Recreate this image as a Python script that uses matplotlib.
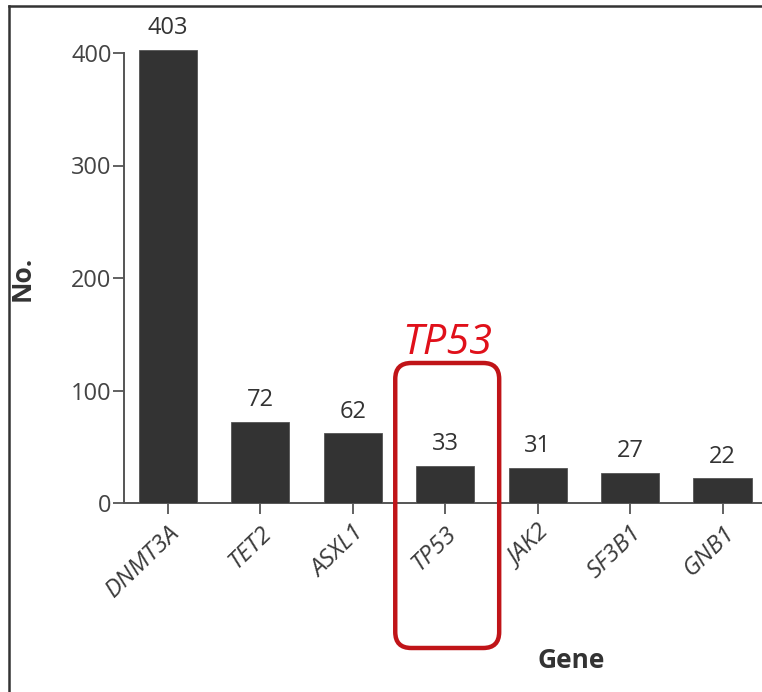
import matplotlib
matplotlib.use('Agg')
import matplotlib.pyplot as plt
from matplotlib.patches import FancyBboxPatch
from matplotlib.lines import Line2D
import numpy as np

genes = ['DNMT3A', 'TET2', 'ASXL1', 'TP53', 'JAK2', 'SF3B1', 'GNB1']
counts = [403, 72, 62, 33, 31, 27, 22]
yticks = [0, 100, 200, 300, 400]
highlight = 'TP53'

plt.rcParams['font.family'] = ['Open Sans', 'DejaVu Sans']

W, H = 762, 692
fig = plt.figure(figsize=(W / 100, H / 100), dpi=100)
# axes box in pixel terms: spine at x=124, baseline at y=503
ax = fig.add_axes([124 / W, (H - 503) / H, (W - 124) / W, 493 / H])

x = np.arange(len(genes))
ax.bar(x, counts, width=0.63, color='#333333', edgecolor='#555555', linewidth=0.6, zorder=3)

for xi, c in zip(x, counts):
    ax.annotate(str(c), (xi, c), xytext=(0, 7), textcoords='offset points',
                ha='center', va='bottom', fontsize=17, color='#333333')

ax.set_xlim(-0.475, (W - 167.5) / 92.5)
ax.set_ylim(0, 493 / 1.125)

ax.set_yticks(yticks)
ax.set_yticklabels([str(v) for v in yticks], fontsize=17, color='#444444')
ax.set_xticks(x)
ax.set_xticklabels(genes, rotation=44, ha='right', va='top', rotation_mode='anchor',
                   fontsize=17.5, style='italic', color='#3a3a3a')
ax.tick_params(axis='both', direction='out', length=8, width=1.3, color='#555555')
ax.tick_params(axis='y', pad=1)
ax.tick_params(axis='x', pad=5)

for side in ['top', 'right']:
    ax.spines[side].set_visible(False)
for side in ['left', 'bottom']:
    ax.spines[side].set_color('#555555')
    ax.spines[side].set_linewidth(1.4)
ax.spines['left'].set_bounds(0, 400)

fig.text(571 / W, 1 - 660 / H, 'Gene', ha='center', va='center', fontsize=19,
         fontweight='bold', color='#333333')
fig.text(22 / W, 1 - 278 / H, 'No.', ha='center', va='center', rotation=90,
         fontsize=19, fontweight='bold', color='#333333')

# red rounded box around the highlighted gene
hi = genes.index(highlight)
px_x = 92.5
px_y = 1.125
x0 = hi + (393 - 443) / px_x
x1 = hi + (497 - 443) / px_x
y0 = -(648 - 503) / px_y
y1 = (503 - 363) / px_y
r = 16 / px_x
box = FancyBboxPatch((x0, y0), x1 - x0, y1 - y0,
                     boxstyle='round,pad=0,rounding_size=%f' % r,
                     mutation_aspect=px_x / px_y,
                     transform=ax.transData, clip_on=False,
                     facecolor='none', edgecolor='#c01418', linewidth=3.2, zorder=5)
ax.add_patch(box)
ax.text((x0 + x1) / 2, y1 - 1 / px_y, highlight, ha='center', va='bottom',
        fontsize=30, style='italic', color='#e0101a')

# outer frame (left and top edges)
fig.add_artist(Line2D([9 / W, 9 / W], [0, 1 - 6 / H], transform=fig.transFigure,
                      color='#333333', linewidth=1.8))
fig.add_artist(Line2D([9 / W, 1], [1 - 6 / H, 1 - 6 / H], transform=fig.transFigure,
                      color='#333333', linewidth=1.8))

fig.savefig('out.png', dpi=100)
